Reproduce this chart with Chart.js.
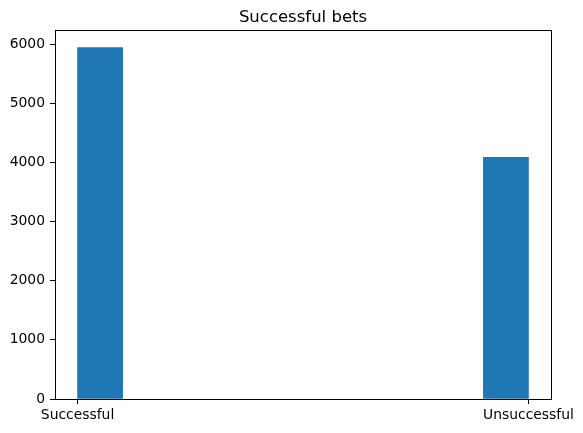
<!DOCTYPE html>
<html>
<head>
<meta charset="utf-8">
<script src="https://cdn.jsdelivr.net/npm/chart.js@4"></script>
<style>
  html, body { margin: 0; padding: 0; background: #fff; }
  #wrap { width: 583px; height: 433px; }
</style>
</head>
<body>
<div id="wrap"><canvas id="histChart" width="583" height="433"></canvas></div>
<script>
// histogram of the two outcomes, 10 bins between 0 and 1
const chartTitle = "Successful bets";
const categories = ["Successful", "Unsuccessful"];
const binCounts = [5940, 0, 0, 0, 0, 0, 0, 0, 0, 4084];
const yTicks = [0, 1000, 2000, 3000, 4000, 5000, 6000];

const binWidth = 1 / binCounts.length;
const histData = binCounts.map(function (c, i) {
  return { x: (i + 0.5) * binWidth, y: c };
});

const font = "'DejaVu Sans', sans-serif";

// frame round the plot area, like matplotlib spines, and title over the plot
const frameBox = {
  id: "frameBox",
  afterDatasetsDraw(chart) {
    const a = chart.chartArea;
    const ctx = chart.ctx;
    ctx.save();
    ctx.strokeStyle = "#000";
    ctx.lineWidth = 1;
    ctx.strokeRect(Math.round(a.left) + 0.5, Math.round(a.top) + 0.5,
      Math.round(a.right - a.left), Math.round(a.bottom - a.top));
    ctx.fillStyle = "#000";
    ctx.font = "16.5px " + font;
    ctx.textAlign = "center";
    ctx.textBaseline = "alphabetic";
    ctx.fillText(chartTitle, (a.left + a.right) / 2, a.top - 8);
    ctx.restore();
  },
};

new Chart(document.getElementById("histChart"), {
  type: "bar",
  data: {
    datasets: [
      {
        data: histData,
        backgroundColor: function (ctx) {
          const v = ctx.raw ? ctx.raw.y : 0;
          return v > 0 ? "#1f77b4" : "rgba(0,0,0,0)";
        },
        borderWidth: 0,
        barPercentage: 1,
        categoryPercentage: 1,
      },
    ],
  },
  options: {
    responsive: false,
    animation: false,
    layout: { padding: { left: 0, right: 32, top: 30, bottom: 0 } },
    plugins: {
      legend: { display: false },
      tooltip: { enabled: false },
      title: { display: false },
    },
    scales: {
      x: {
        type: "linear",
        offset: false,
        min: -0.05,
        max: 1.05,
        afterBuildTicks(scale) {
          scale.ticks = categories.map(function (c, i) { return { value: i }; });
        },
        afterFit(scale) { scale.height = 34; },
        ticks: {
          color: "#000",
          font: { family: font, size: 13.9 },
          padding: 3,
          maxRotation: 0,
          autoSkip: false,
          callback: function (v) { return categories[Math.round(v)]; },
        },
        grid: { offset: false, drawOnChartArea: false, tickLength: 5, color: "#000" },
        border: { color: "#000" },
      },
      y: {
        min: 0,
        bounds: "data",
        afterBuildTicks(scale) {
          scale.ticks = yTicks.map(function (v) { return { value: v }; });
        },
        afterDataLimits(scale) {
          scale.max = Math.max.apply(null, binCounts) * 1.05;
        },
        afterFit(scale) { scale.width = 55; },
        ticks: {
          color: "#000",
          font: { family: font, size: 13.9 },
          padding: 5,
          callback: function (v) { return String(v); },
        },
        grid: { drawOnChartArea: false, tickLength: 5, color: "#000" },
        border: { color: "#000" },
      },
    },
  },
  plugins: [frameBox],
});
</script>
</body>
</html>
